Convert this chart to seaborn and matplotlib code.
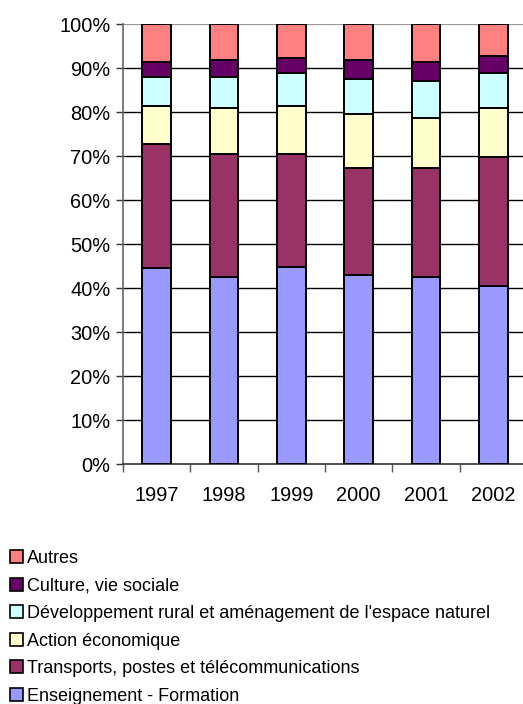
import matplotlib
matplotlib.use('agg')
import matplotlib.pyplot as plt
import seaborn as sns
import numpy as np
from matplotlib.patches import Patch
from matplotlib.ticker import FixedLocator, PercentFormatter

sns.set_style('white')
plt.rcParams['font.family'] = ['Liberation Sans', 'DejaVu Sans']
plt.rcParams['text.color'] = 'black'
plt.rcParams['xtick.color'] = 'black'
plt.rcParams['ytick.color'] = 'black'

annees = ['1997', '1998', '1999', '2000', '2001', '2002']
# parts en %, de bas en haut
enseignement = [44.5, 42.6, 44.8, 43.0, 42.6, 40.45]
transports = [28.2, 27.8, 25.7, 24.2, 24.6, 29.35]
action_eco = [8.7, 10.4, 10.9, 12.3, 11.4, 11.0]
developpement = [6.6, 7.2, 7.5, 8.1, 8.5, 8.1]
culture = [3.3, 3.75, 3.3, 4.15, 4.2, 3.75]
autres = [8.7, 8.25, 7.8, 8.25, 8.7, 7.35]

series = [
    ('Enseignement - Formation', enseignement, '#9999FF'),
    ('Transports, postes et télécommunications', transports, '#993366'),
    ('Action économique', action_eco, '#FFFFCC'),
    ("Développement rural et aménagement de l'espace naturel", developpement, '#CCFFFF'),
    ('Culture, vie sociale', culture, '#660066'),
    ('Autres', autres, '#FF8080'),
]

fig = plt.figure(figsize=(5.23, 7.04), dpi=100)
ax = fig.add_axes([123/523, 240/704, 404/523, 440/704])

bas = np.zeros(len(annees))
for nom, vals, couleur in series:
    v = np.array(vals) / 100.0
    sns.barplot(x=annees, y=v, bottom=bas, color=couleur, saturation=1,
                width=0.43, edgecolor='black', linewidth=1.4, ax=ax, zorder=3)
    bas = bas + v

ax.set_ylim(0, 1)
ax.set_xlim(-0.5, 5.5)
ax.set_yticks(np.arange(0, 1.01, 0.1))
ax.yaxis.set_major_formatter(PercentFormatter(1.0, decimals=0))
for yv in np.arange(0.1, 0.95, 0.1):
    ax.axhline(yv, color='black', lw=1.0, zorder=1)
ax.axhline(1.0, color='#999999', lw=1.6, zorder=1)

for s in ['top', 'right']:
    ax.spines[s].set_visible(False)
ax.spines['left'].set_color('#666666')
ax.spines['bottom'].set_color('#333333')
ax.spines['left'].set_linewidth(1.2)
ax.spines['bottom'].set_linewidth(1.2)

ax.tick_params(axis='y', which='major', left=True, length=5, width=1.0,
               color='#333333', labelsize=14.4, pad=4, labelcolor='black')
ax.tick_params(axis='x', which='major', bottom=False, length=0,
               labelsize=14.4, pad=16, labelcolor='black')
ax.xaxis.set_minor_locator(FixedLocator(np.arange(-0.5, 6.0, 1.0)))
ax.tick_params(axis='x', which='minor', bottom=True, length=6, width=1.0,
               color='#555555')
ax.set_xlabel('')
ax.set_ylabel('')

handles = [Patch(facecolor=c, edgecolor='black', linewidth=1.2, label=n)
           for n, _, c in reversed(series)]
leg = fig.legend(handles=handles, loc='upper left', bbox_to_anchor=(0.005, 1 - 543/704),
                 frameon=False, fontsize=13, handlelength=0.72, handleheight=0.72,
                 handletextpad=0.22, labelspacing=0.58, borderaxespad=0)
for t in leg.get_texts():
    t.set_color('black')

fig.savefig('out.png', dpi=100)
